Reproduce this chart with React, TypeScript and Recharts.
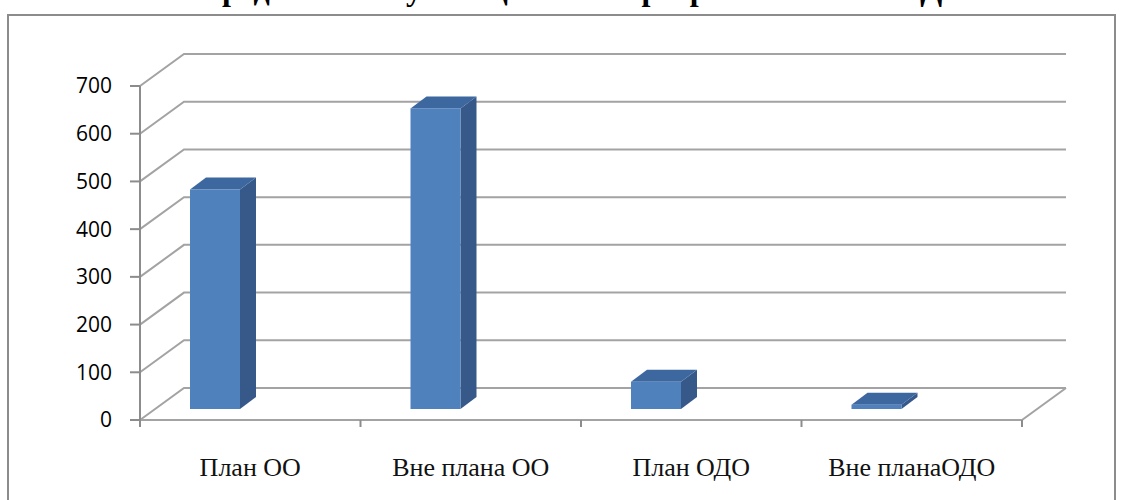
import React from 'react';
import { BarChart, Bar, XAxis, YAxis, CartesianGrid } from 'recharts';

const categories = ['План ОО', 'Вне плана ОО', 'План ОДО', 'Вне планаОДО'];
const counts = [460, 630, 57, 9];
const yTicks = [0, 100, 200, 300, 400, 500, 600, 700];
const title = 'Распределение обучающихся по программам ОО и ОДО';

const data = categories.map((name, i) => ({ name, value: counts[i] }));

const W = 1121;
const H = 500;
const PLOT_LEFT = 140;
const PLOT_RIGHT = 1022;
const PLOT_TOP = 86;
const PLOT_BOTTOM = 420;
// 3d depth of the floor/back wall
const DX = 44;
const DY = -32;
const BAND = (PLOT_RIGHT - PLOT_LEFT) / categories.length;
const GRID = '#a3a3a3';

const gridLine = (props: any) => {
  const { x1, y1, x2, key } = props;
  const isFloor = Math.abs(y1 - PLOT_BOTTOM) < 1;
  return (
    <g key={key}>
      <path
        d={`M${x1},${y1} L${x1 + DX},${y1 + DY} L${x2 + DX},${y1 + DY}`}
        fill="none"
        stroke={GRID}
        strokeWidth={2}
      />
      {isFloor && (
        <path d={`M${x2},${y1} L${x2 + DX},${y1 + DY}`} fill="none" stroke={GRID} strokeWidth={2} />
      )}
    </g>
  );
};

const Box3D = (props: any) => {
  const { x, y, width, height } = props;
  const fx = x - 35;
  const fy = y - 11;
  const d = 16;
  const e = -12;
  return (
    <g>
      <polygon
        points={`${fx + width},${fy} ${fx + width + d},${fy + e} ${fx + width + d},${fy + height + e} ${fx + width},${fy + height}`}
        fill="#36598a"
      />
      <polygon
        points={`${fx},${fy} ${fx + d},${fy + e} ${fx + width + d},${fy + e} ${fx + width},${fy}`}
        fill="#3d679f"
      />
      <rect x={fx} y={fy} width={width} height={height} fill="#4f81bd" />
    </g>
  );
};

const CategoryTick = (props: any) => {
  const { x, y, payload, index } = props;
  return (
    <g>
      <line x1={x - BAND / 2} y1={y - 8} x2={x - BAND / 2} y2={y - 1} stroke="#8c8c8c" strokeWidth={2} />
      {index === categories.length - 1 && (
        <line x1={x + BAND / 2} y1={y - 8} x2={x + BAND / 2} y2={y - 1} stroke="#8c8c8c" strokeWidth={2} />
      )}
      <text
        x={x}
        y={y + 48}
        textAnchor="middle"
        fontFamily="'Liberation Serif', 'Times New Roman', serif"
        fontSize={26}
        fill="#111"
      >
        {payload.value}
      </text>
    </g>
  );
};

export default function App() {
  return (
    <div style={{ position: 'absolute', left: 0, top: 0, width: W, height: H, overflow: 'hidden', background: '#fff' }}>
      <div
        style={{
          position: 'absolute',
          left: 0,
          top: -27,
          width: W,
          textAlign: 'center',
          fontFamily: "'Liberation Serif', 'Times New Roman', serif",
          fontWeight: 'bold',
          fontSize: 32,
          lineHeight: '32px',
          color: '#000',
        }}
      >
        {title}
      </div>
      <div
        style={{
          position: 'absolute',
          left: 7,
          top: 14,
          width: 1109,
          height: 500,
          border: '2px solid #8c8c8c',
          boxSizing: 'border-box',
        }}
      />
      <div style={{ position: 'absolute', left: 0, top: 0 }}>
        <BarChart
          width={W}
          height={H}
          data={data}
          margin={{ top: PLOT_TOP, right: W - PLOT_RIGHT, bottom: 0, left: 0 }}
          barSize={50}
        >
          <CartesianGrid vertical={false} horizontal={gridLine} />
          <XAxis
            dataKey="name"
            height={H - PLOT_BOTTOM}
            axisLine={{ stroke: GRID, strokeWidth: 2 }}
            tickLine={false}
            tick={<CategoryTick />}
            interval={0}
          />
          <YAxis
            width={PLOT_LEFT}
            domain={[0, 700]}
            ticks={yTicks}
            interval={0}
            axisLine={{ stroke: '#8c8c8c', strokeWidth: 2 }}
            tickLine={{ stroke: '#8c8c8c', strokeWidth: 2 }}
            tickSize={10}
            tickMargin={18}
            tick={{ fill: '#000', fontSize: 21, fontFamily: "'Open Sans', sans-serif" }}
          />
          <Bar dataKey="value" shape={<Box3D />} isAnimationActive={false} />
        </BarChart>
      </div>
    </div>
  );
}
